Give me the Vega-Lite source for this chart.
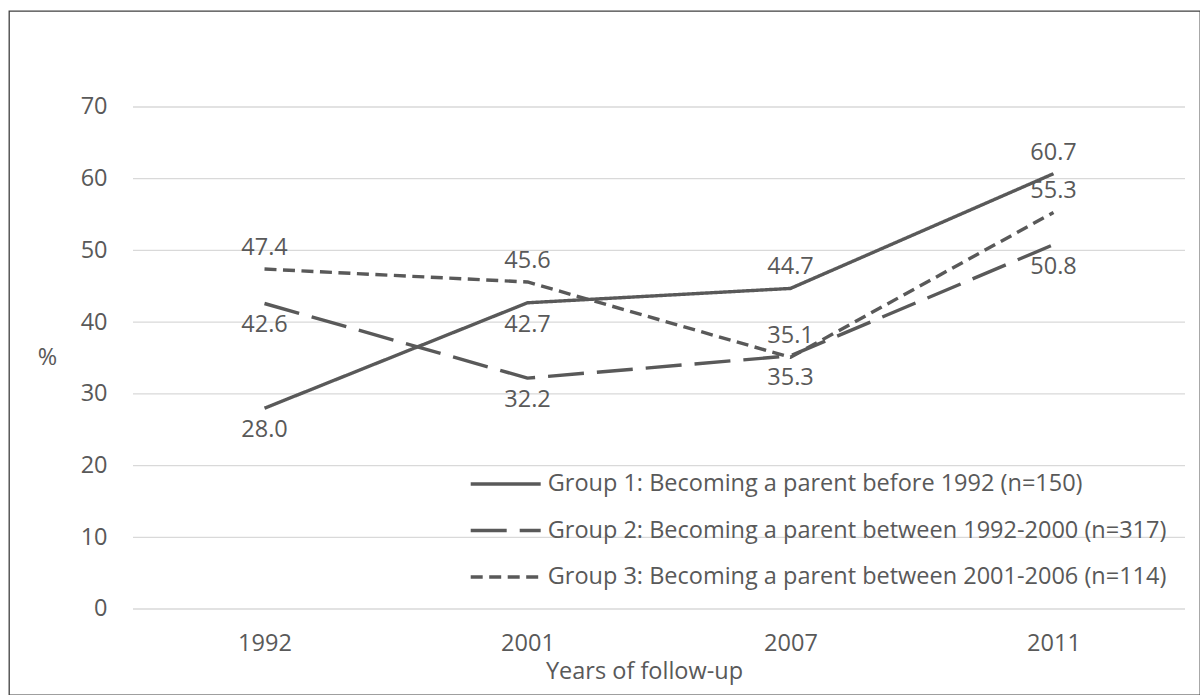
{
  "$schema": "https://vega.github.io/schema/vega-lite/v6.json",
  "width": 1191,
  "height": 684,
  "autosize": {"type": "none"},
  "padding": {"left": 9, "top": 11, "right": 0, "bottom": 0},
  "background": "white",
  "config": {
    "view": {"stroke": "#404040", "strokeWidth": 1.3},
    "font": "Open Sans",
    "text": {"font": "Open Sans"}
  },
  "datasets": {
    "series": [
      {"group": "Group 1: Becoming a parent before 1992 (n=150)", "wave": 1, "year": "1992", "value": 28.0},
      {"group": "Group 1: Becoming a parent before 1992 (n=150)", "wave": 2, "year": "2001", "value": 42.7},
      {"group": "Group 1: Becoming a parent before 1992 (n=150)", "wave": 3, "year": "2007", "value": 44.7},
      {"group": "Group 1: Becoming a parent before 1992 (n=150)", "wave": 4, "year": "2011", "value": 60.7},
      {"group": "Group 2: Becoming a parent between 1992-2000 (n=317)", "wave": 1, "year": "1992", "value": 42.6},
      {"group": "Group 2: Becoming a parent between 1992-2000 (n=317)", "wave": 2, "year": "2001", "value": 32.2},
      {"group": "Group 2: Becoming a parent between 1992-2000 (n=317)", "wave": 3, "year": "2007", "value": 35.3},
      {"group": "Group 2: Becoming a parent between 1992-2000 (n=317)", "wave": 4, "year": "2011", "value": 50.8},
      {"group": "Group 3: Becoming a parent between 2001-2006 (n=114)", "wave": 1, "year": "1992", "value": 47.4},
      {"group": "Group 3: Becoming a parent between 2001-2006 (n=114)", "wave": 2, "year": "2001", "value": 45.6},
      {"group": "Group 3: Becoming a parent between 2001-2006 (n=114)", "wave": 3, "year": "2007", "value": 35.1},
      {"group": "Group 3: Becoming a parent between 2001-2006 (n=114)", "wave": 4, "year": "2011", "value": 55.3}
    ],
    "grid": [{"v": 0}, {"v": 10}, {"v": 20}, {"v": 30}, {"v": 40}, {"v": 50}, {"v": 60}, {"v": 70}]
  },
  "layer": [
    {
      "data": {"name": "grid"},
      "mark": {"type": "rule", "color": "#d9d9d9", "strokeWidth": 1.3},
      "encoding": {
        "x": {"datum": 0.5, "type": "quantitative"},
        "x2": {"datum": 4.5},
        "y": {"field": "v", "type": "quantitative"}
      }
    },
    {
      "data": {"name": "series"},
      "mark": {"type": "line", "strokeWidth": 3.4, "color": "#595959", "strokeJoin": "round"},
      "encoding": {
        "x": {
          "field": "wave", "type": "quantitative",
          "scale": {"domain": [0.02852, 4.55704], "nice": false, "zero": false},
          "axis": {
            "values": [1, 2, 3, 4],
            "labelExpr": "['', '1992', '2001', '2007', '2011'][datum.value]",
            "offset": -86, "domain": false, "ticks": false, "tickSize": 0, "grid": false,
            "labelPadding": 34, "labelBaseline": "middle", "labelFontSize": 23.5,
            "labelColor": "#595959", "labelFont": "Open Sans", "labelFlush": false, "labelOverlap": false,
            "title": "Years of follow-up", "titleX": 635, "titleY": 62,
            "titleAlign": "center", "titleBaseline": "middle", "titleFontSize": 23.5,
            "titleFontWeight": "normal", "titleColor": "#595959", "titleFont": "Open Sans"
          }
        },
        "y": {
          "field": "value", "type": "quantitative",
          "scale": {"domain": [-11.992, 83.386], "nice": false, "zero": false},
          "axis": {
            "values": [0, 10, 20, 30, 40, 50, 60, 70],
            "offset": -124, "domain": false, "ticks": false, "tickSize": 0, "grid": false,
            "labelPadding": 26, "labelFontSize": 23.5, "labelColor": "#595959", "labelFont": "Open Sans",
            "labelBaseline": "middle",
            "title": "%", "titleAngle": 0, "titleX": -86, "titleY": 346,
            "titleAlign": "center", "titleBaseline": "middle", "titleFontSize": 23.5,
            "titleFontWeight": "normal", "titleColor": "#595959", "titleFont": "Open Sans"
          }
        },
        "strokeDash": {
          "field": "group", "type": "nominal",
          "scale": {
            "domain": [
              "Group 1: Becoming a parent before 1992 (n=150)",
              "Group 2: Becoming a parent between 1992-2000 (n=317)",
              "Group 3: Becoming a parent between 2001-2006 (n=114)"
            ],
            "range": [[1, 0], [36, 13], [12, 6.5]]
          },
          "legend": {
            "orient": "none", "legendX": 459.7, "legendY": 460, "title": null,
            "symbolType": "stroke", "symbolSize": 4900, "symbolStrokeWidth": 3.4,
            "symbolStrokeColor": "#595959", "labelFontSize": 23.5, "labelColor": "#595959",
            "labelFont": "Open Sans", "labelOffset": 5, "rowPadding": 20.5, "clipHeight": 26,
            "labelLimit": 0, "padding": 0
          }
        }
      }
    },
    {
      "data": {"name": "series"},
      "transform": [{"filter": "indexof(datum.group, 'Group 3') == 0 || (indexof(datum.group, 'Group 1') == 0 && datum.wave >= 3)"}],
      "mark": {"type": "text", "dy": -21, "align": "center", "baseline": "middle", "fontSize": 23.5, "color": "#595959", "font": "Open Sans"},
      "encoding": {
        "x": {"field": "wave", "type": "quantitative"},
        "y": {"field": "value", "type": "quantitative"},
        "text": {"field": "value", "type": "quantitative", "format": ".1f"}
      }
    },
    {
      "data": {"name": "series"},
      "transform": [{"filter": "!(indexof(datum.group, 'Group 3') == 0 || (indexof(datum.group, 'Group 1') == 0 && datum.wave >= 3))"}],
      "mark": {"type": "text", "dy": 22, "align": "center", "baseline": "middle", "fontSize": 23.5, "color": "#595959", "font": "Open Sans"},
      "encoding": {
        "x": {"field": "wave", "type": "quantitative"},
        "y": {"field": "value", "type": "quantitative"},
        "text": {"field": "value", "type": "quantitative", "format": ".1f"}
      }
    }
  ]
}
